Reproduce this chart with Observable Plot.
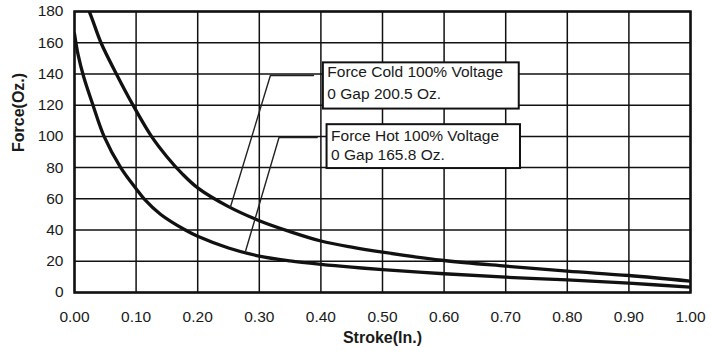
<!DOCTYPE html>
<html><head><meta charset="utf-8">
<script src="https://cdn.jsdelivr.net/npm/d3@7"></script>
<script src="https://cdn.jsdelivr.net/npm/@observablehq/plot@0.6"></script>
<style>body{margin:0;background:#fff} svg{display:block}</style>
</head><body><div id="chart"></div>
<script>
// Stroke (in.) and force (oz.)
const coldStroke = [0, 0.024, 0.043, 0.068, 0.095, 0.125, 0.15, 0.175, 0.20, 0.25, 0.30, 0.35, 0.40, 0.45, 0.50, 0.60, 0.70, 0.80, 0.90, 1.00];
const coldForce  = [200.5, 180, 160, 140, 120, 100, 87, 76, 67, 55, 46, 39, 33, 29, 25.8, 20.5, 16.9, 13.7, 10.9, 7.3];
const hotStroke  = [0, 0.006, 0.015, 0.03, 0.048, 0.075, 0.10, 0.113, 0.14, 0.18, 0.20, 0.25, 0.30, 0.35, 0.40, 0.45, 0.50, 0.60, 0.70, 0.80, 0.90, 1.00];
const hotForce   = [165.8, 152, 138, 120, 100, 80, 66.5, 60, 50, 40, 36, 28.5, 23.3, 20.2, 18, 16.2, 14.7, 12, 9.8, 8.1, 6, 3.4];

const xTicks = [0, 0.1, 0.2, 0.3, 0.4, 0.5, 0.6, 0.7, 0.8, 0.9, 1.0];
const yTicks = [0, 20, 40, 60, 80, 100, 120, 140, 160, 180];

// annotation callouts (data coordinates)
const calloutLines = [
  ["Force Cold 100% Voltage", "0 Gap 200.5 Oz."],
  ["Force Hot 100% Voltage", "0 Gap 165.8 Oz."]
];
const boxX1 = [0.404, 0.410];
const boxX2 = [0.722, 0.724];
const boxY1 = [117.5, 79.4];
const boxY2 = [147.1, 107.5];
const textLine1Y = [141.1, 100.5];
const textLine2Y = [127.2, 88.2];
const leaderStroke = [[0.253, 0.318, 0.388], [0.278, 0.332, 0.394]];
const leaderForce  = [[54.6, 139, 139], [26.9, 99.3, 99.3]];

const cold = coldStroke.map((s, i) => ({s, f: coldForce[i]}));
const hot = hotStroke.map((s, i) => ({s, f: hotForce[i]}));
const boxes = boxX1.map((x1, i) => ({x1, x2: boxX2[i], y1: boxY1[i], y2: boxY2[i]}));
const textRows = [];
calloutLines.forEach((ls, i) => {
  textRows.push({x: boxX1[i], y: textLine1Y[i], t: ls[0]});
  textRows.push({x: boxX1[i], y: textLine2Y[i], t: ls[1]});
});
const leaders = [];
leaderStroke.forEach((arr, k) => arr.forEach((s, j) => leaders.push({k, s, f: leaderForce[k][j]})));

const chart = Plot.plot({
  width: 711,
  height: 351,
  marginLeft: 74,
  marginRight: 21,
  marginTop: 11,
  marginBottom: 59,
  style: {fontFamily: "'Liberation Sans', Arial, sans-serif", fontSize: "15px", color: "#1a1a1a", background: "#fff"},
  x: {domain: [0, 1]},
  y: {domain: [0, 180]},
  marks: [
    Plot.gridX(xTicks, {stroke: "#111", strokeOpacity: 1, strokeWidth: 1.5}),
    Plot.gridY(yTicks, {stroke: "#111", strokeOpacity: 1, strokeWidth: 1.5}),
    Plot.axisX(xTicks, {tickFormat: d3.format(".2f"), tickSize: 0, tickPadding: 18, label: null, fontSize: 15.5}),
    Plot.axisY(yTicks, {tickSize: 0, tickPadding: 11, label: null, fontSize: 15.5}),
    Plot.text(["Stroke(In.)"], {frameAnchor: "bottom", dy: 50, fontWeight: "bold", fontSize: 16}),
    Plot.text(["Force(Oz.)"], {frameAnchor: "left", dx: -56, rotate: -90, fontWeight: "bold", fontSize: 16}),
    Plot.line(cold, {x: "s", y: "f", curve: "catmull-rom", stroke: "#111", strokeWidth: 3.3, clip: true}),
    Plot.line(hot, {x: "s", y: "f", curve: "catmull-rom", stroke: "#111", strokeWidth: 3.3, clip: true}),
    Plot.line(leaders, {x: "s", y: "f", z: "k", stroke: "#222", strokeWidth: 1.4}),
    Plot.rect(boxes, {x1: "x1", x2: "x2", y1: "y1", y2: "y2", fill: "#fff", stroke: "#111", strokeWidth: 2}),
    Plot.text(textRows, {x: "x", y: "y", text: "t", textAnchor: "start", dx: 4, fontSize: 15.5, fill: "#1a1a1a"}),
    Plot.frame({stroke: "#111", strokeWidth: 2.5})
  ]
});
document.getElementById("chart").append(chart);
</script>
</body></html>
